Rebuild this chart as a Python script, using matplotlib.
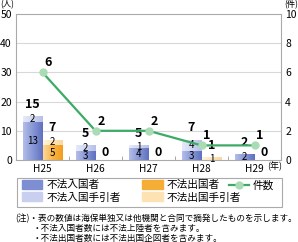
import matplotlib
matplotlib.use("Agg")
import matplotlib.pyplot as plt
import numpy as np
from matplotlib.patches import Patch, Rectangle
from matplotlib.lines import Line2D
from matplotlib.colors import LinearSegmentedColormap

plt.rcParams['font.family'] = ['Noto Sans CJK JP', 'DejaVu Sans']

years = ["H25", "H26", "H27", "H28", "H29"]
entry = [13, 3, 4, 3, 2]          # 不法入国者
entry_help = [2, 2, 1, 4, 0]      # 不法入国手引者
exit_ = [5, 0, 0, 0, 0]           # 不法出国者
exit_help = [2, 0, 0, 1, 0]       # 不法出国手引者
cases = [6, 2, 2, 1, 1]           # 件数

c_blue = "#7d8fd2"
c_lblue = "#c9d0ef"
c_orange = "#f5ad35"
c_lorange = "#fde2b4"
c_green = "#3daa66"
c_gface = "#a9dcb5"
c_grid = "#d8d8d8"

# left-to-right shading for the bars
grads = {
    c_blue: ["#b4bee9", "#8797d6", "#5f70c2"],
    c_lblue: ["#e6eaf9", "#cfd6f1", "#b5bfe8"],
    c_orange: ["#fdd898", "#f8b446", "#f29d1c"],
    c_lorange: ["#fff3de", "#fde4ba", "#fbd6a0"],
}

fig = plt.figure(figsize=(2.98, 2.42), dpi=100)
ax = fig.add_axes([16/298, 82/242, 265/298, 146/242])

x = np.arange(len(years))
w = 0.377
xb = x - w/2
xo = x + w/2

bars = [
    (ax.bar(xb, entry, w, color=c_blue, zorder=2), c_blue),
    (ax.bar(xb, entry_help, w, bottom=entry, color=c_lblue, zorder=2), c_lblue),
    (ax.bar(xo, exit_, w, color=c_orange, zorder=2), c_orange),
    (ax.bar(xo, exit_help, w, bottom=exit_, color=c_lorange, zorder=2), c_lorange),
]
ramp = np.linspace(0, 1, 64).reshape(1, -1)
for cont, col in bars:
    cmap = LinearSegmentedColormap.from_list("g", grads[col])
    for p in cont.patches:
        if p.get_height() <= 0:
            continue
        x0, y0 = p.get_x(), p.get_y()
        im = ax.imshow(ramp, extent=[x0, x0 + p.get_width(), y0, y0 + p.get_height()],
                       aspect="auto", cmap=cmap, zorder=2.5, interpolation="bilinear")
        im.set_clip_path(p)

def seg_labels(xs, low, high):
    for xi, a, b in zip(xs, low, high):
        if a > 0:
            ax.text(xi, a/2, str(a), ha="center", va="center", fontsize=7, zorder=4)
        if b > 0:
            ax.text(xi, a + b/2, str(b), ha="center", va="center", fontsize=7, zorder=4)
        tot = a + b
        ax.annotate(str(tot), (xi, tot), xytext=(0, 4 if tot > 0 else 0.5),
                    textcoords="offset points", ha="center", va="bottom",
                    fontsize=9, fontweight="bold", zorder=4)

seg_labels(xb, entry, entry_help)
seg_labels(xo, exit_, exit_help)

ax.set_xlim(-0.5, len(years) - 0.5)
ax.set_ylim(0, 50)
ax.set_yticks([0, 10, 20, 30, 40, 50])
ax.set_xticks(x)
ax.set_xticklabels(years, fontsize=7.3)
ax.set_xticks(np.arange(0.5, len(years) - 1, 1), minor=True)
ax.tick_params(axis="x", which="major", length=0, pad=3)
ax.tick_params(axis="x", which="minor", length=3, direction="in", color="#999999")
ax.tick_params(axis="y", length=0, labelsize=7.5, pad=3)
for yv in [10, 20, 30, 40]:
    ax.axhline(yv, color=c_grid, lw=0.8, zorder=1)
for s in ax.spines.values():
    s.set_color("#aaaaaa")
    s.set_linewidth(0.8)

ax2 = ax.twinx()
ax2.set_ylim(0, 10)
ax2.set_yticks([0, 2, 4, 6, 8, 10])
ax2.tick_params(axis="y", length=0, labelsize=7.5, pad=3)
for s in ax2.spines.values():
    s.set_visible(False)
ax2.plot(x, cases, color=c_green, lw=1.6, marker="o", ms=5,
         mfc=c_gface, mec=c_gface, zorder=5)
for xi, v in zip(x, cases):
    ax2.annotate(str(v), (xi, v), xytext=(4, 7), textcoords="offset points",
                 ha="center", va="center", fontsize=9, fontweight="bold")

fig.text(0, 1 - 5/242, "(人)", fontsize=6, ha="left", va="center")
fig.text(1, 1 - 5/242, "(件)", fontsize=6, ha="right", va="center")
fig.text(267/298, 1 - 166/242, "(年)", fontsize=6.5, ha="left", va="center")

# legend box
fig.patches.append(Rectangle((17/298, 1 - 207/242), 265/298, 29/242,
                             transform=fig.transFigure, fill=False,
                             edgecolor="#aaaaaa", lw=0.8))
bar_handles = [Patch(color=c_blue), Patch(color=c_lblue),
               Patch(color=c_orange), Patch(color=c_lorange)]
bar_labels = ["不法入国者", "不法入国手引者", "不法出国者", "不法出国手引者"]
leg1 = fig.legend(bar_handles, bar_labels, ncol=2, loc="upper left",
                  bbox_to_anchor=(22/298, 1 - 180/242), fontsize=7.7,
                  frameon=False, handlelength=1.9, handleheight=0.9,
                  handletextpad=0.4, columnspacing=2.0, labelspacing=0.22,
                  borderpad=0, borderaxespad=0)
line_handle = Line2D([], [], color=c_green, lw=1.6, marker="o", ms=5,
                     mfc=c_gface, mec=c_gface)
leg2 = fig.legend([line_handle], ["件数"], loc="upper left",
                  bbox_to_anchor=(229/298, 1 - 180/242), fontsize=7.7,
                  frameon=False, handlelength=1.9, handletextpad=0.3,
                  borderpad=0, borderaxespad=0)

notes = ["(注)・表の数値は海保単独又は他機関と合同で摘発したものを示します。",
         "・不法入国者数には不法上陸者を含みます。",
         "・不法出国者数には不法出国企図者を含みます。"]
fig.text(15/298, 1 - 219/242, notes[0], fontsize=6.2, ha="left", va="center")
fig.text(33/298, 1 - 229/242, notes[1], fontsize=6.2, ha="left", va="center")
fig.text(33/298, 1 - 239/242, notes[2], fontsize=6.2, ha="left", va="center")

fig.savefig("out.png", dpi=100)
